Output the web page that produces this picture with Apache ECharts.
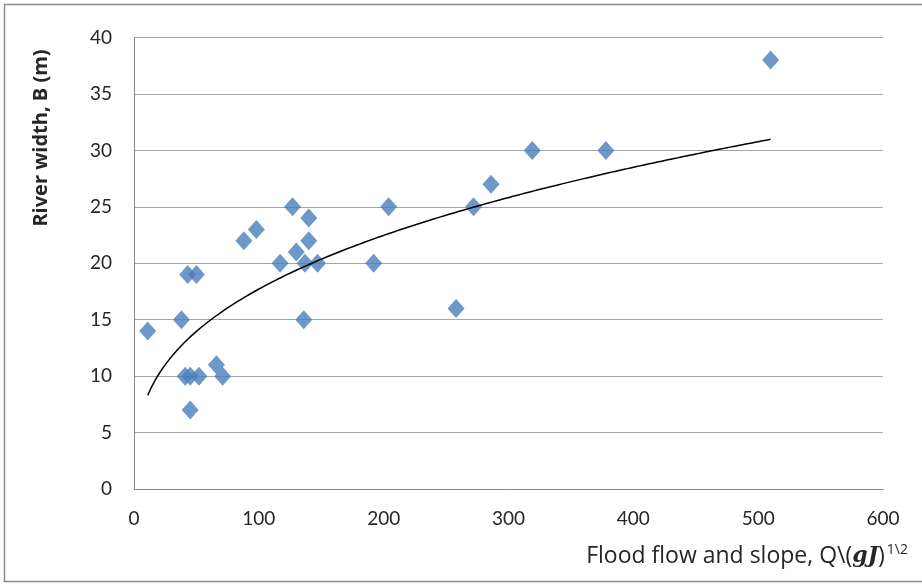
<!DOCTYPE html>
<html>
<head>
<meta charset="utf-8">
<script src="https://cdn.jsdelivr.net/npm/echarts@6/dist/echarts.min.js"></script>
<style>
  html, body { margin: 0; padding: 0; background: #fff; }
  #chart { width: 922px; height: 584px; }
</style>
</head>
<body>
<div id="chart"></div>
<script>
// Flood flow and slope term vs. measured river width
const flowSlope = [11, 38, 43, 50, 41, 45, 52, 71, 66, 45, 88, 98, 127, 140, 140, 130, 117, 137, 147, 136, 192, 204, 258, 272, 286, 319, 378, 510];
const riverWidth = [14, 15, 19, 19, 10, 10, 10, 10, 11, 7, 22, 23, 25, 24, 22, 21, 20, 20, 20, 15, 20, 25, 16, 25, 27, 30, 30, 38];
const xTicks = [0, 100, 200, 300, 400, 500, 600];
const yTicks = [0, 5, 10, 15, 20, 25, 30, 35, 40];

const points = flowSlope.map((x, i) => [x, riverWidth[i]]);

// Power trend line y = a * x^b, fitted by least squares in log-log space
function powerFit(xs, ys) {
  const n = xs.length;
  let sx = 0, sy = 0, sxx = 0, sxy = 0;
  for (let i = 0; i < n; i++) {
    const lx = Math.log(xs[i]), ly = Math.log(ys[i]);
    sx += lx; sy += ly; sxx += lx * lx; sxy += lx * ly;
  }
  const b = (n * sxy - sx * sy) / (n * sxx - sx * sx);
  const a = Math.exp((sy - b * sx) / n);
  return { a, b };
}
const fit = powerFit(flowSlope, riverWidth);
const xMin = Math.min(...flowSlope), xMax = Math.max(...flowSlope);
const trend = [];
for (let k = 0; k <= 200; k++) {
  const x = xMin + (xMax - xMin) * k / 200;
  trend.push([x, fit.a * Math.pow(x, fit.b)]);
}

const FONT = 'Lato, "Open Sans", sans-serif';
const TITLE_FONT = '"Open Sans", Lato, sans-serif';
const chart = echarts.init(document.getElementById('chart'), null, { renderer: 'canvas' });
chart.setOption({
  backgroundColor: '#ffffff',
  animation: false,
  grid: { left: 134, right: 39, top: 37.5, bottom: 95, containLabel: false },
  xAxis: {
    type: 'value',
    min: xTicks[0], max: xTicks[xTicks.length - 1], interval: 100,
    axisLine: { show: true, onZero: false, lineStyle: { color: '#8c8c8c', width: 1 } },
    axisTick: { show: false },
    splitLine: { show: false },
    axisLabel: { color: '#262626', fontFamily: FONT, fontSize: 19, margin: 20 }
  },
  yAxis: {
    type: 'value',
    min: yTicks[0], max: yTicks[yTicks.length - 1], interval: 5,
    axisLine: { show: true, lineStyle: { color: '#8c8c8c', width: 1 } },
    axisTick: { show: false },
    splitLine: { show: true, lineStyle: { color: '#a6a6a6', width: 1.2 } },
    axisLabel: { color: '#262626', fontFamily: FONT, fontSize: 19, margin: 22 }
  },
  graphic: [
    {
      type: 'rect', silent: true,
      shape: { x: 4.5, y: 4.5, width: 930, height: 577 },
      style: { fill: 'none', stroke: '#8c8c8c', lineWidth: 1.5 }
    },
    {
      type: 'text', silent: true,
      position: [41, 138], rotation: Math.PI / 2,
      style: {
        text: 'River width, B (m)',
        font: 'bold 20px ' + TITLE_FONT,
        fill: '#262626',
        align: 'center', verticalAlign: 'middle'
      }
    },
    {
      type: 'text', silent: true,
      position: [908, 556],
      style: {
        text: 'Flood flow and slope, Q\\({it|gJ}){sup|1\\2}',
        font: '23px ' + TITLE_FONT,
        fill: '#262626',
        align: 'right', verticalAlign: 'middle',
        rich: {
          it: { font: 'italic bold 22px "DejaVu Serif", serif', fill: '#262626' },
          sup: { font: '14px ' + TITLE_FONT, fill: '#262626', verticalAlign: 'top', padding: [0, 0, 12, 2] }
        }
      }
    }
  ],
  series: [
    {
      type: 'scatter',
      data: points,
      symbol: 'diamond',
      symbolSize: [17, 19],
      itemStyle: { color: '#4a7ebb' },
      z: 3
    },
    {
      type: 'line',
      data: trend,
      showSymbol: false,
      smooth: false,
      lineStyle: { color: '#000000', width: 1.5 },
      z: 4
    }
  ]
});
</script>
</body>
</html>
